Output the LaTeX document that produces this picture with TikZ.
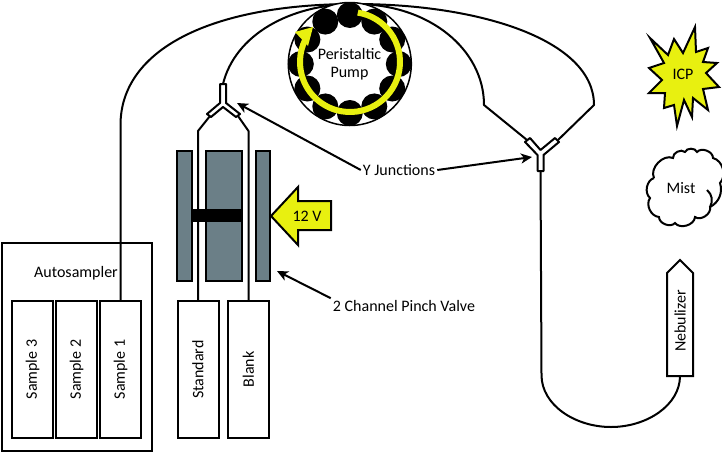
\documentclass[tikz,border=0pt]{standalone}
\usepackage{fontspec}
\setmainfont{Carlito}
\usetikzlibrary{calc,arrows.meta}
\definecolor{sparkyellow}{HTML}{E8F010}
\definecolor{valvegray}{HTML}{6B7F87}
\tikzset{
  tube/.style={line width=2pt,line join=round},
  vial/.style={draw,line width=2pt,rotate=90,minimum width=137pt,minimum height=41pt,inner sep=0pt},
  valveblock/.style={draw,line width=2pt,fill=valvegray,minimum height=130pt,inner sep=0pt},
  roller/.style={circle,fill=black,minimum size=26pt,inner sep=0pt},
  pointer/.style={line width=2pt,-{Stealth[length=11pt,width=10pt,inset=3pt]}},
  label/.style={inner sep=2pt},
}
\begin{document}
\begin{tikzpicture}[x=1pt,y=-1pt,font=\fontsize{16}{18}\selectfont]
  \useasboundingbox (0,0) rectangle (722,453);
  % autosampler and the vials
  \node[draw,line width=2pt,minimum width=150pt,minimum height=208pt,inner sep=0pt] (autosampler) at (77,347) {};
  \node[label] (autolabel) at (76,273) {Autosampler};
  \node[vial] (sample3) at (32.5,369.5) {Sample 3};
  \node[vial] (sample2) at (76.5,369.5) {Sample 2};
  \node[vial] (sample1) at (120.5,369.5) {Sample 1};
  \node[vial] (standard) at (198,369.5) {Standard};
  \node[vial] (blank) at (248.5,369.5) {Blank};
  % pinch valve
  \node[valveblock,minimum width=15pt] (blockleft) at (184.5,216) {};
  \node[valveblock,minimum width=36pt] (blockmid) at (224,216) {};
  \node[valveblock,minimum width=14pt] (blockright) at (263,216) {};
  % ports of the two junctions
  \coordinate (ytopin) at (223,84);
  \coordinate (yleft) at (210,116);
  \coordinate (yright) at (238,116);
  \coordinate (ymainleft) at (527,140);
  \coordinate (ymainright) at (558,140);
  \coordinate (ymainout) at (540.5,171);
  \coordinate (crown) at (355,4);
  \coordinate (nebin) at (680,376);
  % tubing
  \draw[tube] (sample1.east) -- (120.5,125) .. controls (120.5,50) and (210,4) .. (crown)
    .. controls (480,4) and (594,40) .. (594,105) -- (ymainright);
  \draw[tube] (ytopin) .. controls (235,35) and (290,4) .. (crown)
    .. controls (430,4) and (484,50) .. (484,105) -- (ymainleft);
  \draw[tube] (standard.east) -- (198,131) -- (yleft);
  \draw[tube] (blank.east) -- (248.5,131) -- (yright);
  \draw[tube] (ymainout) -- (541.5,375) .. controls (541.5,405) and (575,427) .. (611,427)
    .. controls (647,427) and (680,405) .. (nebin);
  \node[fill=black,minimum width=50pt,minimum height=13pt,inner sep=0pt] (plunger) at (217,215.5) {};
  % junctions
  \draw[tube,fill=white] (220,84) -- (226,84) -- (226,103) -- (240,114) -- (236,117) -- (223,107)
    -- (211,117) -- (207,114) -- (220,103) -- cycle;
  \draw[tube,fill=white] (537.5,171) -- (543.5,171) -- (543.5,155) -- (559,142) -- (555,138) -- (540.5,150)
    -- (530,138) -- (525,142) -- (537.5,155) -- cycle;
  % pump
  \node[circle,draw,line width=1.5pt,fill=white,minimum size=123pt,inner sep=0pt] (pump) at (349.8,64) {};
  \foreach \a in {0,30,...,330}
    \node[roller] (roller\a) at ($(pump.center)+(\a:49)$) {};
  \coordinate (sweep) at (350,62);
  \draw[line width=6pt,sparkyellow] ($(sweep)+(-81:50)$) arc[start angle=-81,end angle=206,radius=50];
  \fill[sparkyellow] (295,32) -- (313,27) -- (308,46) -- cycle;
  \node[label,align=center] (pumplabel) at (349.5,64) {Peristaltic\\Pump};
  % 12 V drive
  \draw[line width=2pt,fill=sparkyellow] (271,216) -- (298,187) -- (298,201) -- (331,201) -- (331,230)
    -- (298,230) -- (298,245) -- cycle;
  \node[label] (volt) at (307,216) {12 V};
  % plasma, mist, nebulizer
  \draw[line width=2pt,fill=sparkyellow] (650,38) -- (668,55) -- (674,39) -- (683,53) -- (695,27) -- (696,52)
    -- (708,48) -- (703,62) -- (717,63) -- (706,73) -- (719,87) -- (703,89) -- (708,110) -- (693,98)
    -- (692,117) -- (684,100) -- (677,126) -- (674,105) -- (664,108) -- (665,93) -- (649,93) -- (662,80)
    -- (649,68) -- (664,63) -- cycle;
  \node[label] (icp) at (683,74) {ICP};
  \draw[line width=2pt] (654,178) to[bend left=70] (673,158) to[bend left=70] (685,152)
    to[bend left=70] (697,152) to[bend left=70] (713,158) to[bend left=60] (720,183)
    to[bend left=40] (710,207) to[bend left=70] (695,217) to[bend left=70] (675,223)
    to[bend left=70] (659,217) to[bend left=60] (650,198) to[bend left=60] (654,178);
  \draw[line width=2pt] (707,190) to[bend left=40] (710,207);
  \node[label] (mist) at (681,188) {Mist};
  \draw[line width=2pt] (667,273) -- (680,260) -- (693,273) -- (693,376) -- (667,376) -- cycle;
  \node[label,rotate=90] (nebulizer) at (680,321) {Nebulizer};
  % callouts
  \node[label] (junctionlabel) at (399,170) {Y Junctions};
  \node[label] (pinchlabel) at (404,306) {2 Channel Pinch Valve};
  \coordinate (ytiptop) at (237,103);
  \coordinate (ytipmain) at (532,157);
  \coordinate (pinchtip) at (277,271);
  \draw[pointer] (junctionlabel.west) -- (ytiptop);
  \draw[pointer] (junctionlabel.east) -- (ytipmain);
  \draw[pointer] (pinchlabel.north west) -- (pinchtip);
\end{tikzpicture}
\end{document}
